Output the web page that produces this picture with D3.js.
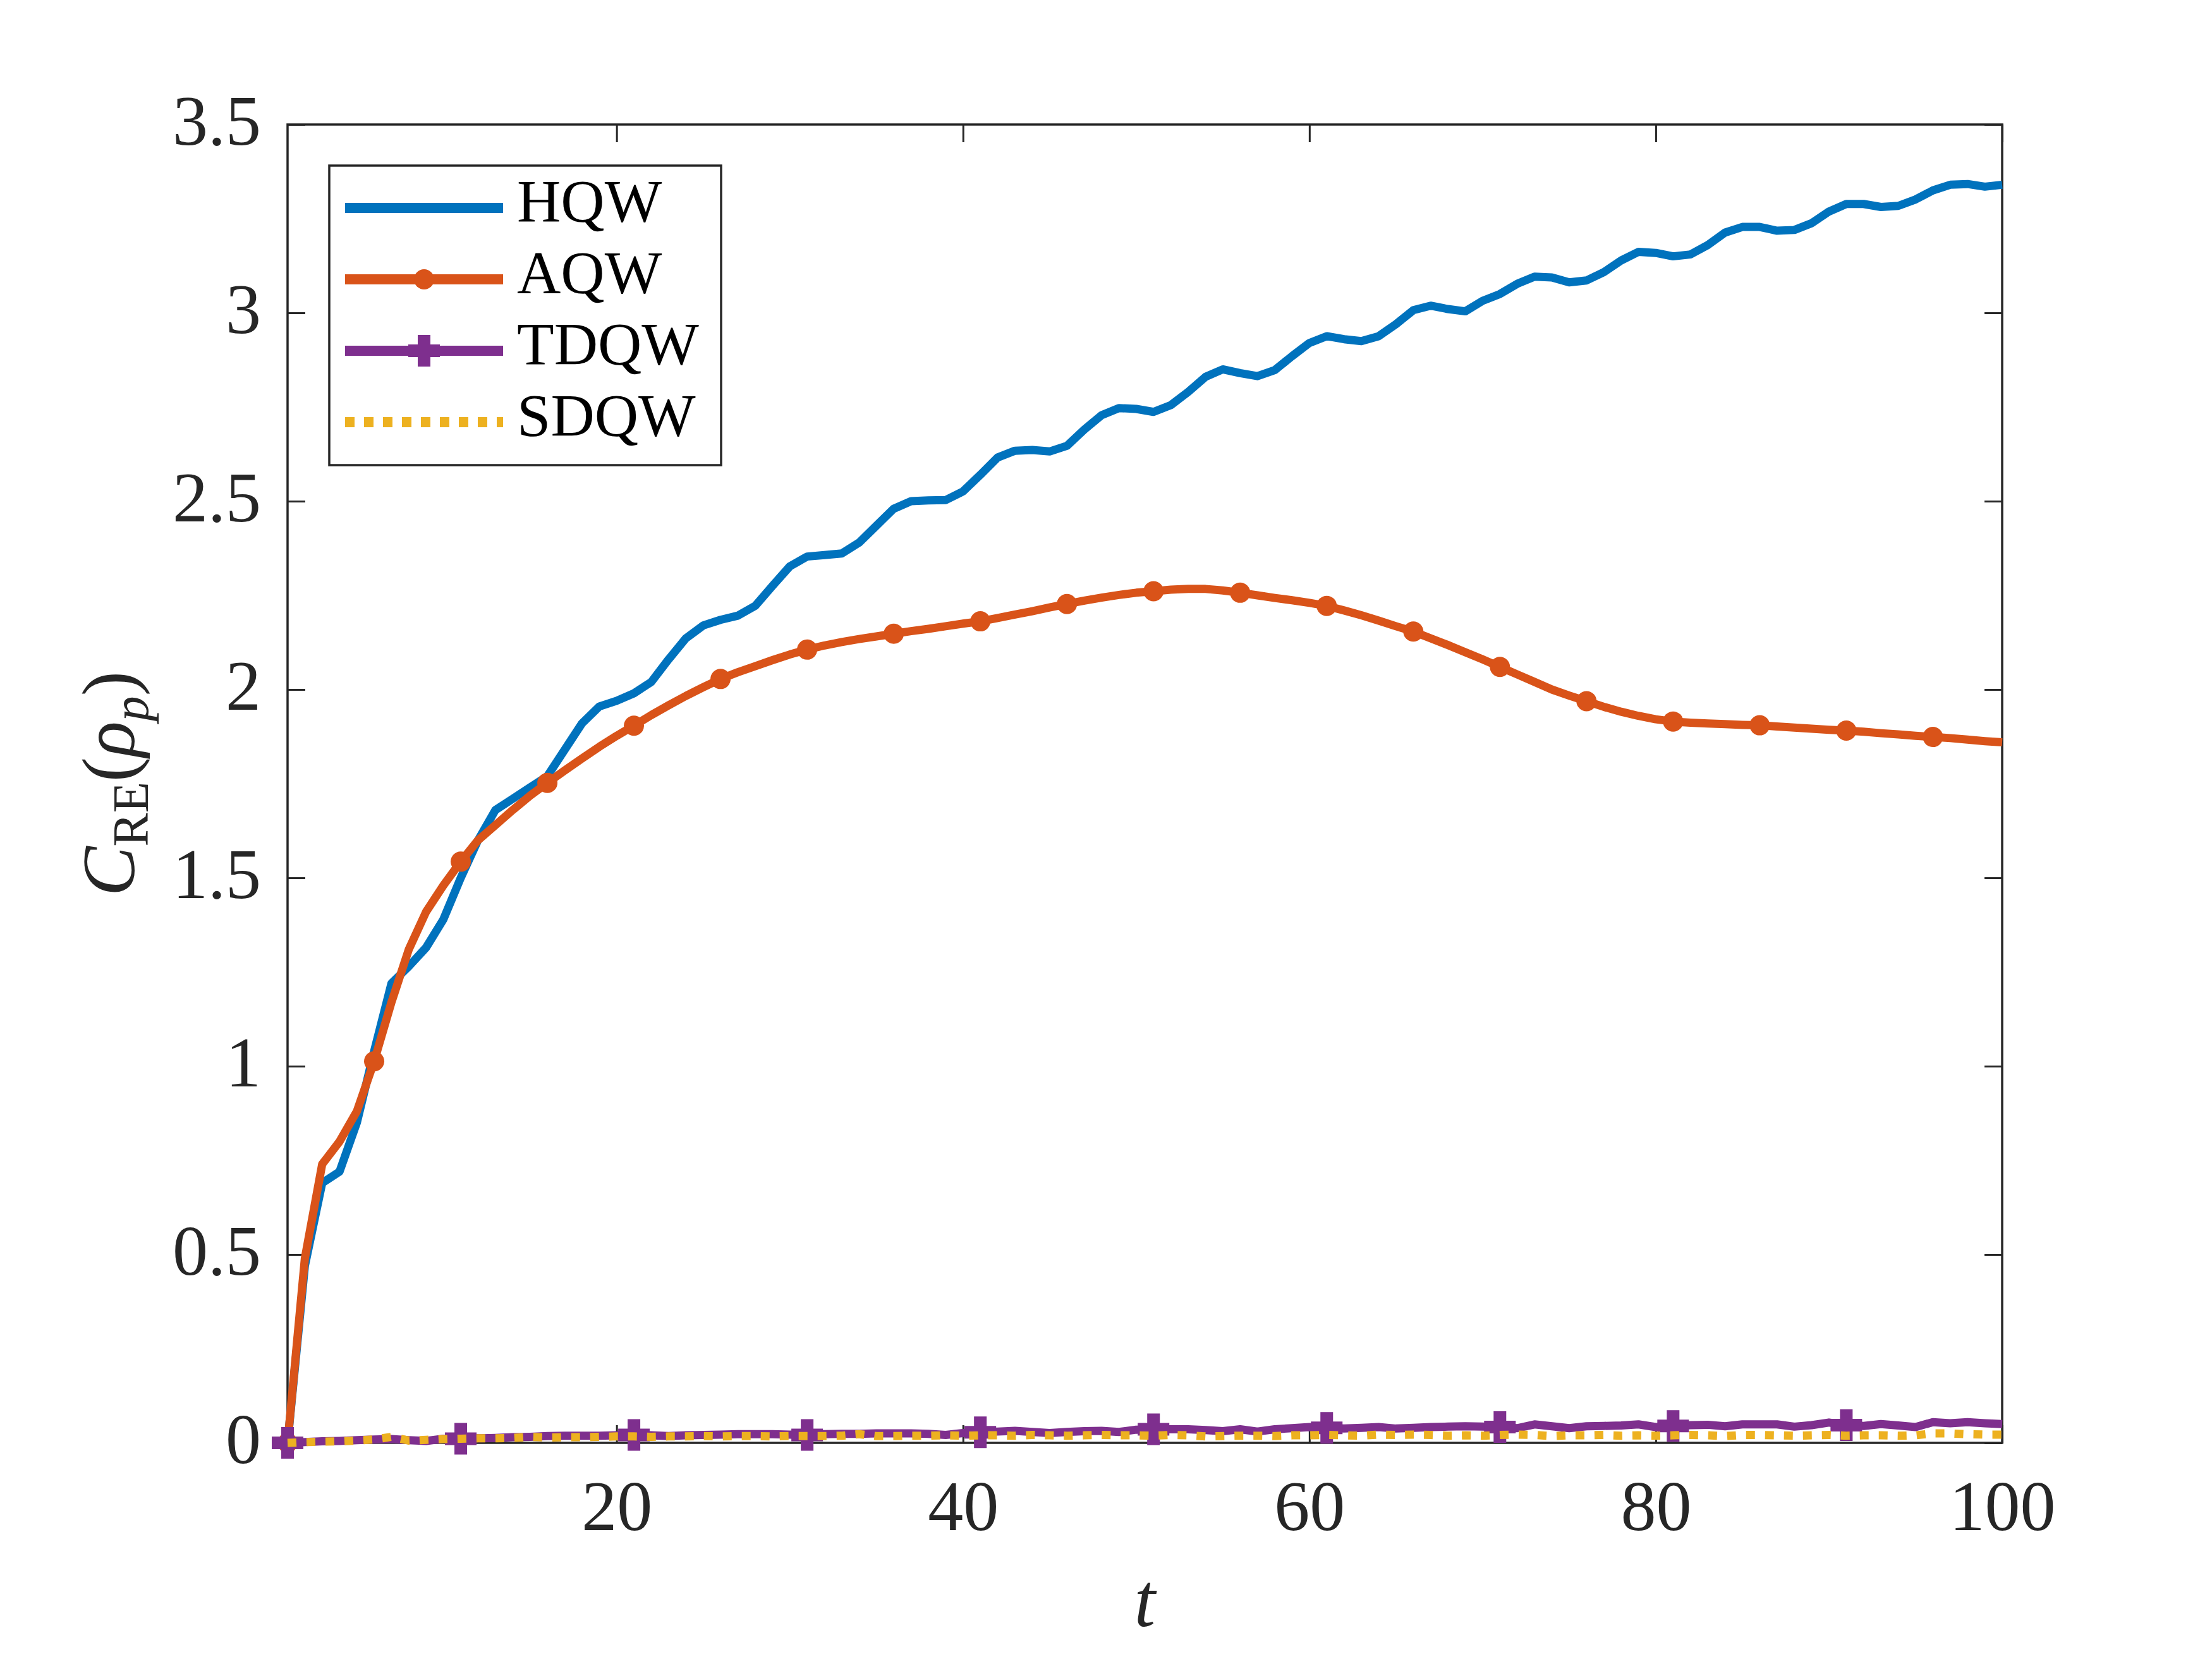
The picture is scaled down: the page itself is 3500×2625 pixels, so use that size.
<!DOCTYPE html>
<html>
<head>
<meta charset="utf-8">
<script src="https://cdn.jsdelivr.net/npm/d3@7"></script>
<style>
  body { margin: 0; background: #fff; }
</style>
</head>
<body>
<svg id="chart" width="3500" height="2625"></svg>
<script>
const tValues = d3.range(1, 101)

const hqw = [
  0.00, 0.47, 0.69, 0.72, 0.85, 1.04, 1.22, 1.265, 1.315, 1.39,
  1.50, 1.60, 1.68, 1.71, 1.74, 1.77, 1.84, 1.91, 1.955, 1.97,
  1.99, 2.02, 2.08, 2.136, 2.17, 2.185, 2.196, 2.222, 2.275, 2.327,
  2.353, 2.357, 2.361, 2.39, 2.435, 2.48, 2.50, 2.502, 2.503, 2.526,
  2.57, 2.616, 2.634, 2.636, 2.632, 2.647, 2.69, 2.728, 2.747, 2.745,
  2.737, 2.755, 2.79, 2.83, 2.85, 2.84, 2.832, 2.848, 2.885, 2.92,
  2.938, 2.93, 2.925, 2.938, 2.97, 3.007, 3.019, 3.01, 3.004, 3.032,
  3.05, 3.077, 3.096, 3.094, 3.081, 3.086, 3.108, 3.139, 3.162, 3.159,
  3.15, 3.155, 3.18, 3.213, 3.228, 3.228, 3.218, 3.22, 3.238, 3.269,
  3.289, 3.289, 3.281, 3.284, 3.301, 3.325, 3.34, 3.342, 3.335, 3.34
]

const aqw = [
  0.00, 0.49, 0.74, 0.80, 0.88, 1.013, 1.17, 1.31, 1.41, 1.48,
  1.543, 1.60, 1.64, 1.68, 1.718, 1.752, 1.785, 1.817, 1.848, 1.877,
  1.904, 1.932, 1.958, 1.983, 2.006, 2.028, 2.046, 2.062, 2.078, 2.093,
  2.106, 2.117, 2.126, 2.134, 2.141, 2.148, 2.155, 2.161, 2.168, 2.175,
  2.181, 2.19, 2.199, 2.208, 2.218, 2.227, 2.236, 2.244, 2.251, 2.257,
  2.261, 2.265, 2.267, 2.267, 2.263, 2.257, 2.25, 2.243, 2.237, 2.23,
  2.222, 2.21, 2.197, 2.183, 2.168, 2.154, 2.136, 2.118, 2.099, 2.08,
  2.06, 2.04, 2.02, 2.0, 1.984, 1.969, 1.954, 1.941, 1.93, 1.921,
  1.915, 1.912, 1.91, 1.908, 1.906, 1.905, 1.902, 1.899, 1.896, 1.893,
  1.891, 1.888, 1.884, 1.881, 1.877, 1.874, 1.871, 1.867, 1.863, 1.86
]

const tdqw = [
  0.000, 0.002, 0.004, 0.005, 0.007, 0.009, 0.010, 0.007, 0.005, 0.011,
  0.011, 0.012, 0.013, 0.015, 0.016, 0.018, 0.019, 0.019, 0.019, 0.020,
  0.021, 0.020, 0.018, 0.020, 0.021, 0.022, 0.023, 0.023, 0.023, 0.022,
  0.021, 0.023, 0.024, 0.024, 0.025, 0.025, 0.025, 0.024, 0.021, 0.026,
  0.028, 0.030, 0.032, 0.029, 0.026, 0.029, 0.031, 0.032, 0.029, 0.035,
  0.036, 0.036, 0.036, 0.034, 0.031, 0.036, 0.030, 0.036, 0.039, 0.042,
  0.040, 0.038, 0.040, 0.042, 0.038, 0.040, 0.042, 0.043, 0.044, 0.043,
  0.042, 0.039, 0.049, 0.044, 0.039, 0.044, 0.045, 0.046, 0.049, 0.042,
  0.045, 0.047, 0.048, 0.044, 0.049, 0.049, 0.049, 0.043, 0.047, 0.054,
  0.047, 0.045, 0.050, 0.046, 0.042, 0.055, 0.052, 0.055, 0.052, 0.050
]

const sdqw = [
  0.000, 0.002, 0.003, 0.004, 0.006, 0.009, 0.016, 0.006, 0.008, 0.010,
  0.011, 0.012, 0.012, 0.013, 0.016, 0.014, 0.015, 0.015, 0.016, 0.017,
  0.017, 0.016, 0.017, 0.017, 0.018, 0.017, 0.018, 0.018, 0.017, 0.018,
  0.018, 0.018, 0.019, 0.023, 0.018, 0.018, 0.019, 0.019, 0.020, 0.019,
  0.020, 0.020, 0.019, 0.021, 0.020, 0.019, 0.020, 0.021, 0.020, 0.020,
  0.019, 0.021, 0.020, 0.017, 0.018, 0.019, 0.019, 0.018, 0.020, 0.020,
  0.021, 0.020, 0.019, 0.022, 0.021, 0.022, 0.021, 0.019, 0.020, 0.019,
  0.021, 0.022, 0.021, 0.018, 0.020, 0.020, 0.021, 0.019, 0.020, 0.019,
  0.020, 0.021, 0.020, 0.018, 0.021, 0.021, 0.020, 0.019, 0.020, 0.021,
  0.019, 0.020, 0.020, 0.019, 0.020, 0.025, 0.025, 0.023, 0.022, 0.022
]

const seriesNames = ['HQW', 'AQW', 'TDQW', 'SDQW']
const seriesColors = ['#0072BD', '#D95319', '#7E2F8E', '#EDB120']
const xTicks = [20, 40, 60, 80, 100]
const yTicks = [0, 0.5, 1, 1.5, 2, 2.5, 3, 3.5]

const fontFamily = '"Liberation Serif", "DejaVu Serif", serif'
const axisColor = '#262626'
const lineWidth = 13
const tickLen = 28

const margin = { left: 455, right: 332, top: 197, bottom: 342 }
const width = 3500 - margin.left - margin.right
const height = 2625 - margin.top - margin.bottom

const svg = d3.select('#chart')
const g = svg.append('g').attr('transform', `translate(${margin.left},${margin.top})`)

const xScale = d3.scaleLinear().domain([1, 100]).range([0, width])
const yScale = d3.scaleLinear().domain([0, 3.5]).range([height, 0])

// axes: ticks point inward on all four sides (box on)
function styleAxis(sel) {
  sel.select('.domain').remove()
  sel.selectAll('.tick line').attr('stroke', axisColor).attr('stroke-width', 3)
  sel.selectAll('.tick text')
    .attr('fill', axisColor)
    .attr('font-family', fontFamily)
    .attr('font-size', 112)
}

g.append('g')
  .attr('transform', `translate(0,${height})`)
  .call(d3.axisBottom(xScale).tickValues(xTicks).tickSizeInner(-tickLen).tickSizeOuter(0).tickPadding(58).tickFormat(d3.format('d')))
  .call(styleAxis)

g.append('g')
  .call(d3.axisTop(xScale).tickValues(xTicks).tickSizeInner(-tickLen).tickSizeOuter(0).tickFormat(''))
  .call(styleAxis)

g.append('g')
  .call(d3.axisLeft(yScale).tickValues(yTicks).tickSizeInner(-tickLen).tickSizeOuter(0).tickPadding(42).tickFormat(d => String(d)))
  .call(styleAxis)
  .selectAll('.tick text').attr('dy', '0.28em')

g.append('g')
  .attr('transform', `translate(${width},0)`)
  .call(d3.axisRight(yScale).tickValues(yTicks).tickSizeInner(-tickLen).tickSizeOuter(0).tickFormat(''))
  .call(styleAxis)

g.append('rect')
  .attr('x', 0).attr('y', 0)
  .attr('width', width).attr('height', height)
  .attr('fill', 'none')
  .attr('stroke', axisColor)
  .attr('stroke-width', 3.5)

// lines
const line = d3.line()
  .x((d, i) => xScale(tValues[i]))
  .y(d => yScale(d))

const seriesData = [hqw, aqw, tdqw, sdqw]

function plusPath(s) {
  return `M${-s},0H${s}M0,${-s}V${s}`
}

seriesData.forEach((vals, k) => {
  g.append('path')
    .datum(vals)
    .attr('d', line)
    .attr('fill', 'none')
    .attr('stroke', seriesColors[k])
    .attr('stroke-width', lineWidth)
    .attr('stroke-linejoin', 'round')
    .attr('stroke-dasharray', k === 3 ? '14,16' : null)
    .attr('stroke-linecap', 'butt')

  if (k === 1) {
    // AQW: filled circle markers every 5 steps
    g.append('g').selectAll('circle')
      .data(vals.map((v, i) => ({ t: tValues[i], v })).filter((d, i) => i % 5 === 0))
      .join('circle')
      .attr('cx', d => xScale(d.t))
      .attr('cy', d => yScale(d.v))
      .attr('r', 16)
      .attr('fill', seriesColors[k])
  }
  if (k === 2) {
    // TDQW: plus markers every 10 steps
    g.append('g').selectAll('path')
      .data(vals.map((v, i) => ({ t: tValues[i], v })).filter((d, i) => i % 10 === 0))
      .join('path')
      .attr('transform', d => `translate(${xScale(d.t)},${yScale(d.v)})`)
      .attr('d', plusPath(25))
      .attr('stroke', seriesColors[k])
      .attr('stroke-width', 20)
      .attr('fill', 'none')
  }
})

// legend
const legend = g.append('g').attr('transform', 'translate(66,65)')
legend.append('rect')
  .attr('x', 0).attr('y', 0)
  .attr('width', 620).attr('height', 474)
  .attr('fill', '#fff')
  .attr('stroke', axisColor)
  .attr('stroke-width', 3.5)

seriesNames.forEach((name, k) => {
  const rowY = 67 + k * 113
  const row = legend.append('g').attr('transform', `translate(0,${rowY})`)
  row.append('line')
    .attr('x1', 25).attr('x2', 275)
    .attr('y1', 0).attr('y2', 0)
    .attr('stroke', seriesColors[k])
    .attr('stroke-width', lineWidth + 3)
    .attr('stroke-dasharray', k === 3 ? '15,15' : null)
  if (k === 1) {
    row.append('circle').attr('cx', 150).attr('cy', 0).attr('r', 16).attr('fill', seriesColors[k])
  }
  if (k === 2) {
    row.append('path').attr('transform', 'translate(150,0)').attr('d', plusPath(25))
      .attr('stroke', seriesColors[k]).attr('stroke-width', 20)
  }
  row.append('text')
    .attr('x', 297).attr('y', 22)
    .attr('font-family', fontFamily)
    .attr('font-size', 96)
    .attr('fill', '#000')
    .text(name)
})

// axis labels
svg.append('text')
  .attr('x', margin.left + width / 2)
  .attr('y', 2573)
  .attr('text-anchor', 'middle')
  .attr('font-family', fontFamily)
  .attr('font-style', 'italic')
  .attr('font-size', 120)
  .attr('fill', axisColor)
  .text('t')

const yLabel = svg.append('text')
  .attr('transform', `translate(212,${margin.top + height / 2}) rotate(-90)`)
  .attr('text-anchor', 'middle')
  .attr('font-family', fontFamily)
  .attr('font-size', 118)
  .attr('fill', axisColor)
yLabel.append('tspan').attr('font-style', 'italic').text('C')
yLabel.append('tspan').attr('font-size', 80).attr('dy', 22).text('RE')
yLabel.append('tspan').attr('dy', -22).text('(')
yLabel.append('tspan').attr('font-style', 'italic').text('ρ')
yLabel.append('tspan').attr('font-style', 'italic').attr('font-size', 80).attr('dy', 22).text('p')
yLabel.append('tspan').attr('dy', -22).text(')')
</script>
</body>
</html>
